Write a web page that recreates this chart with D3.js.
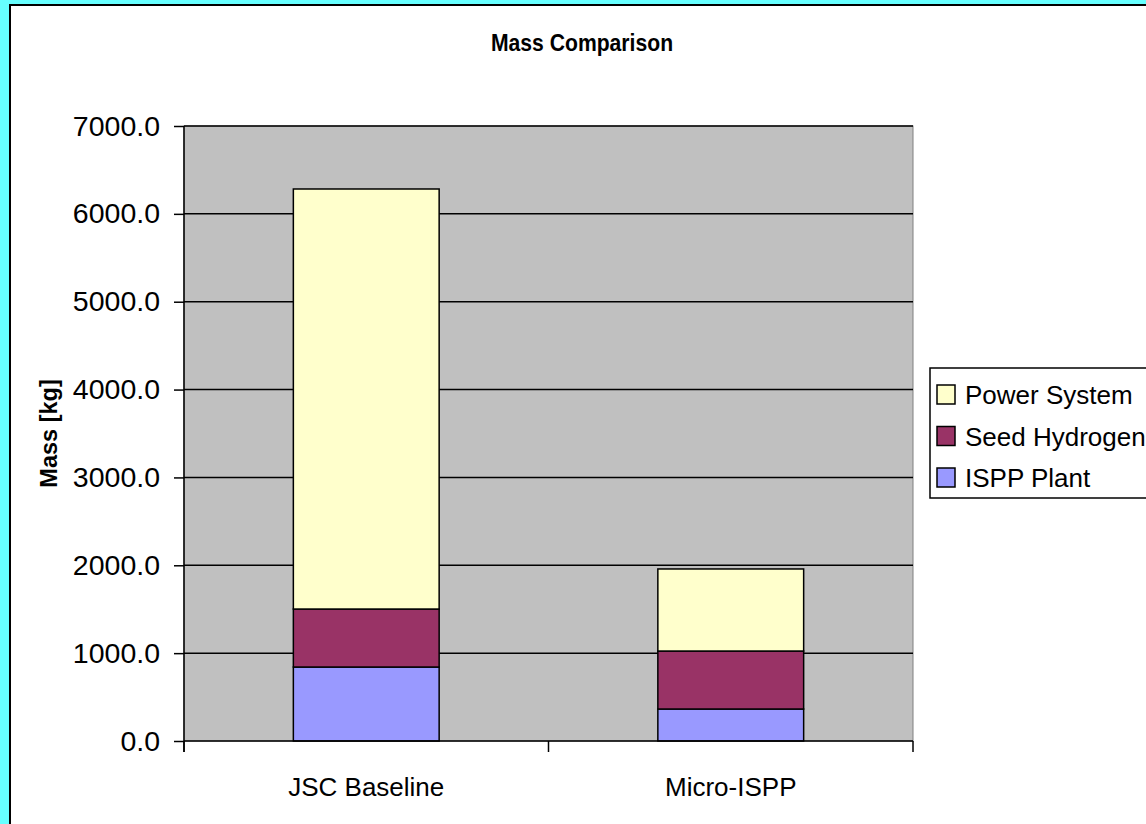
<!DOCTYPE html>
<html>
<head>
<meta charset="utf-8">
<script src="https://cdn.jsdelivr.net/npm/d3@7"></script>
<style>
  html, body { margin: 0; padding: 0; background: #66ffff; overflow: hidden; }
  svg { display: block; font-family: "Liberation Sans", Arial, sans-serif; }
</style>
</head>
<body>
<svg id="chart" width="1146" height="824"></svg>
<script>
const categories = ["JSC Baseline", "Micro-ISPP"];
const isppPlant = [842, 364];
const seedHydrogen = [660, 660];
const powerSystem = [4781, 934];
const seriesNames = ["ISPP Plant", "Seed Hydrogen", "Power System"];
const seriesColors = ["#9999ff", "#993366", "#ffffcc"];
const yTicks = [0, 1000, 2000, 3000, 4000, 5000, 6000, 7000];
const chartTitle = "Mass Comparison";
const yTitle = "Mass [kg]";

const svg = d3.select("#chart");

// page frame
svg.append("rect").attr("x", 0).attr("y", 0).attr("width", 1146).attr("height", 824).attr("fill", "#66ffff");
svg.append("rect").attr("x", 10).attr("y", 5).attr("width", 1170).attr("height", 850)
  .attr("fill", "#ffffff").attr("stroke", "#000").attr("stroke-width", 2);

const plot = { left: 184, right: 913, top: 126, bottom: 741 };

const x = d3.scaleBand().domain(categories).range([plot.left, plot.right]).padding(0);
const y = d3.scaleLinear().domain([0, 7000]).range([plot.bottom, plot.top]);

// plot area
svg.append("rect").attr("x", plot.left).attr("y", plot.top)
  .attr("width", plot.right - plot.left).attr("height", plot.bottom - plot.top)
  .attr("fill", "#c0c0c0").attr("stroke", "#808080").attr("stroke-width", 1);

// gridlines
svg.append("g").selectAll("line").data(yTicks.filter(d => d > 0)).join("line")
  .attr("x1", plot.left).attr("x2", plot.right)
  .attr("y1", d => y(d)).attr("y2", d => y(d))
  .attr("stroke", "#000").attr("stroke-width", 1.5);

// stacked bars
const rows = categories.map((c, i) => ({
  cat: c,
  "ISPP Plant": isppPlant[i],
  "Seed Hydrogen": seedHydrogen[i],
  "Power System": powerSystem[i]
}));
const stack = d3.stack().keys(seriesNames)(rows);
const color = d3.scaleOrdinal().domain(seriesNames).range(seriesColors);
const barW = x.bandwidth() / 2.5;

svg.append("g").selectAll("g").data(stack).join("g")
  .attr("fill", d => color(d.key))
  .selectAll("rect").data(d => d).join("rect")
  .attr("x", d => x(d.data.cat) + (x.bandwidth() - barW) / 2)
  .attr("width", barW)
  .attr("y", d => y(d[1]))
  .attr("height", d => y(d[0]) - y(d[1]))
  .attr("stroke", "#000").attr("stroke-width", 1.5);

// y axis
const yAxis = svg.append("g").attr("transform", `translate(${plot.left},0)`)
  .call(d3.axisLeft(y).tickValues(yTicks).tickFormat(d3.format(".1f"))
    .tickSizeInner(10).tickSizeOuter(0).tickPadding(14));
yAxis.select(".domain").remove();
yAxis.selectAll(".tick line").attr("stroke", "#000").attr("stroke-width", 1.5);
yAxis.selectAll(".tick text").attr("font-size", 28.5).attr("fill", "#000")
  .attr("font-family", "'Liberation Sans', Arial, sans-serif");
svg.append("line").attr("x1", plot.left).attr("x2", plot.left)
  .attr("y1", plot.top).attr("y2", plot.bottom + 11)
  .attr("stroke", "#000").attr("stroke-width", 1.5);

// x axis
svg.append("line").attr("x1", plot.left).attr("x2", plot.right)
  .attr("y1", plot.bottom).attr("y2", plot.bottom)
  .attr("stroke", "#000").attr("stroke-width", 1.5);
const bounds = categories.map(c => x(c)).concat([x.range()[1]]);
svg.append("g").selectAll("line").data(bounds).join("line")
  .attr("x1", d => d).attr("x2", d => d)
  .attr("y1", plot.bottom).attr("y2", plot.bottom + 11)
  .attr("stroke", "#000").attr("stroke-width", 1.5);
svg.append("g").selectAll("text").data(categories).join("text")
  .attr("x", d => x(d) + x.bandwidth() / 2)
  .attr("y", 796)
  .attr("text-anchor", "middle")
  .attr("font-size", 26)
  .text(d => d);

// titles
svg.append("text").attr("transform", "translate(582,51) scale(0.92,1)").attr("text-anchor", "middle")
  .attr("font-size", 23).attr("font-weight", "bold").text(chartTitle);
svg.append("text").attr("transform", `translate(57,${(plot.top + plot.bottom) / 2}) rotate(-90)`)
  .attr("text-anchor", "middle").attr("font-size", 23.5).attr("font-weight", "bold").text(yTitle);

// legend
const legend = svg.append("g");
legend.append("rect").attr("x", 930).attr("y", 368).attr("width", 260).attr("height", 130)
  .attr("fill", "#fff").attr("stroke", "#000").attr("stroke-width", 1.5);
const legendOrder = seriesNames.slice().reverse();
const li = legend.selectAll("g.item").data(legendOrder).join("g").attr("class", "item")
  .attr("transform", (d, i) => `translate(937,${385 + i * 41.5})`);
li.append("rect").attr("width", 18).attr("height", 19)
  .attr("fill", d => color(d)).attr("stroke", "#000").attr("stroke-width", 1.5);
li.append("text").attr("x", 28).attr("y", 19).attr("font-size", 26).text(d => d);
</script>
</body>
</html>
